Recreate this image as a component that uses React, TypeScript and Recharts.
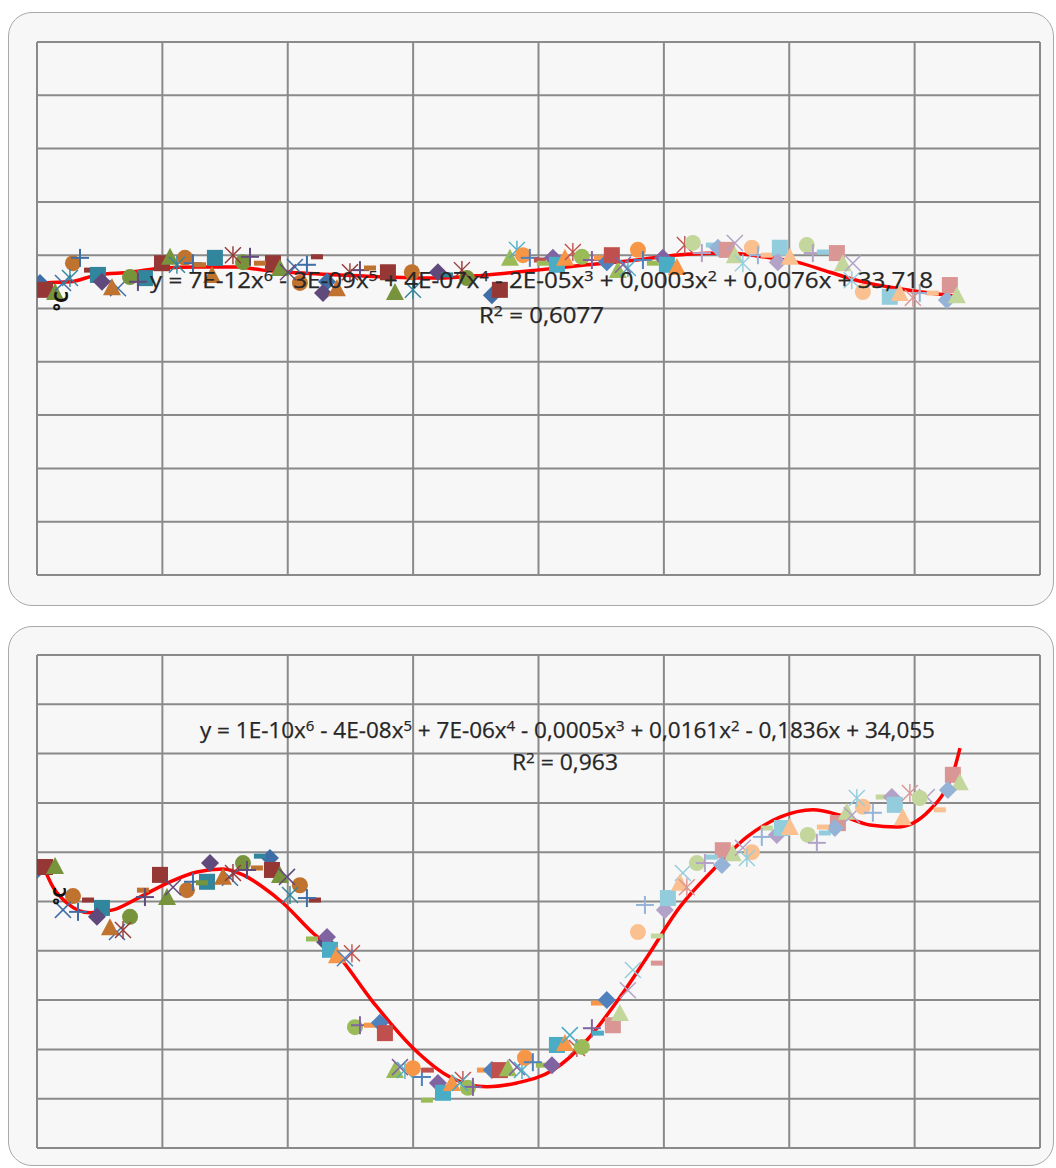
import React from "react";
import { CartesianGrid, ComposedChart, Line, Scatter, XAxis, YAxis } from "recharts";

// [x, y, series] — series id is "<shape>-<colour key>"
type Pt = [number, number, string];
type Tone = "dark" | "mid" | "light";

const X_TICKS = [0, 10, 20, 30, 40, 50, 60, 70, 80];
const Y_TICKS = [28, 29, 30, 31, 32, 33, 34, 35, 36, 37, 38];

const TOP_EQUATION = "y = 7E-12x^6 - 3E-09x^5 + 4E-07x^4 - 2E-05x^3 + 0,0003x^2 + 0,0076x + 33,718";
const TOP_R2 = "R^2 = 0,6077";
const BOTTOM_EQUATION = "y = 1E-10x^6 - 4E-08x^5 + 7E-06x^4 - 0,0005x^3 + 0,0161x^2 - 0,1836x + 34,055";
const BOTTOM_R2 = "R^2 = 0,963";
const UNIT_LABEL = "°C";

const topTrend = [
  [0.48, 33.48], [2.63, 33.5], [4.78, 33.63], [7.42, 33.68], [10.05, 33.76], [12.76, 33.78],
  [15.95, 33.78], [18.02, 33.72], [20.73, 33.67], [26.0, 33.61], [31.9, 33.57], [35.89, 33.63],
  [39.87, 33.72], [43.86, 33.82], [47.85, 33.91], [51.83, 34.02], [55.26, 34.04], [57.89, 33.97],
  [60.61, 33.87], [63.24, 33.68], [65.87, 33.5], [68.58, 33.38], [71.21, 33.29], [73.6, 33.22],
].map(([x, y]) => ({ x, y }));

const topDark: Pt[] = [
  [0.24, 33.48, "dia-b"], [0.64, 33.35, "sq-r"], [1.44, 33.31, "tri-g"], [2.07, 33.48, "x-b"],
  [2.87, 33.85, "circ-o"], [3.43, 33.95, "plus-b"], [4.23, 33.72, "dash-r"], [2.63, 33.57, "star-a"],
  [4.86, 33.63, "sq-a"], [5.18, 33.5, "dia-p"], [5.98, 33.4, "tri-o"], [6.46, 33.38, "x-b"],
  [7.42, 33.59, "circ-g"], [8.05, 33.5, "plus-p"], [8.61, 33.57, "sq-a"], [9.97, 33.85, "sq-r"],
  [10.61, 33.97, "tri-g"], [11.16, 33.82, "star-a"], [11.8, 33.95, "circ-o"], [12.44, 33.85, "plus-b"],
  [13.0, 33.82, "dash-o"], [14.19, 33.95, "sq-a"], [13.96, 33.63, "tri-o"], [15.63, 34.0, "star-r"],
  [16.43, 33.87, "circ-g"], [16.99, 33.97, "plus-p"], [17.78, 33.85, "dash-o"], [18.82, 33.85, "sq-r"],
  [19.38, 33.76, "tri-g"], [20.02, 33.68, "x-p"], [20.57, 33.78, "x-b"], [21.53, 33.82, "plus-b"],
  [22.33, 33.97, "dash-r"], [20.97, 33.48, "circ-o"], [22.81, 33.29, "dia-p"], [23.92, 33.38, "tri-o"],
  [23.13, 33.5, "dia-b"], [25.76, 33.72, "plus-p"], [24.96, 33.68, "star-r"], [26.56, 33.76, "dash-o"],
  [27.99, 33.68, "sq-r"], [29.9, 33.68, "circ-o"], [28.55, 33.31, "tri-g"], [29.98, 33.35, "star-a"],
  [31.98, 33.68, "dia-p"], [32.7, 33.63, "dash-a"], [33.89, 33.72, "star-r"], [34.29, 33.57, "circ-g"],
  [36.92, 33.35, "sq-r"], [36.28, 33.25, "dia-b"],
];

const topMid: Pt[] = [
  [37.72, 33.95, "tri-g"], [38.28, 34.1, "star-a"], [38.76, 34.0, "circ-o"], [39.31, 33.95, "plus-b"],
  [40.11, 33.91, "dash-r"], [40.35, 33.85, "dash-g"], [41.15, 33.95, "dia-p"], [41.47, 33.82, "sq-a"],
  [42.11, 33.95, "tri-o"], [42.74, 34.06, "star-r"], [43.46, 33.97, "circ-g"], [44.26, 33.91, "plus-p"],
  [44.9, 33.95, "dash-o"], [45.45, 33.87, "dia-b"], [45.85, 34.0, "sq-r"], [46.33, 33.72, "tri-g"],
  [46.73, 33.82, "x-p"], [47.13, 33.76, "star-a"], [47.93, 34.1, "circ-o"], [48.33, 33.91, "plus-b"],
  [49.12, 33.85, "dash-g"], [49.92, 33.95, "dia-p"], [50.24, 33.82, "sq-a"], [51.04, 33.78, "tri-o"],
  [51.67, 34.19, "star-r"],
];

const topLight: Pt[] = [
  [52.31, 34.23, "circ-g"], [53.03, 34.04, "plus-p"], [53.83, 34.19, "dash-a"], [54.31, 34.14, "dia-b"],
  [55.02, 34.1, "sq-r"], [55.66, 34.0, "tri-g"], [55.66, 34.23, "x-p"], [57.02, 34.14, "circ-o"],
  [56.3, 33.85, "star-a"], [57.5, 34.0, "plus-b"], [58.21, 34.0, "dash-o"], [59.25, 34.14, "sq-a"],
  [59.09, 33.87, "dia-p"], [60.05, 33.97, "tri-o"], [61.4, 34.19, "circ-g"], [61.88, 34.04, "plus-p"],
  [62.68, 34.06, "dash-a"], [63.8, 34.04, "sq-r"], [64.27, 33.85, "tri-g"], [65.07, 33.85, "x-p"],
  [64.99, 33.53, "star-a"], [65.87, 33.31, "circ-o"], [68.02, 33.22, "sq-a"], [68.82, 33.29, "tri-o"],
  [69.86, 33.2, "star-r"], [70.41, 33.29, "plus-b"], [71.45, 33.29, "dash-o"], [72.57, 33.16, "dia-b"],
  [72.81, 33.44, "sq-r"], [73.37, 33.25, "tri-g"],
];

const bottomTrend = [
  [0.4, 33.78], [1.28, 33.29], [2.39, 32.97], [4.23, 32.77], [6.06, 32.83], [8.21, 33.09],
  [10.61, 33.4], [12.76, 33.6], [14.84, 33.66], [16.43, 33.54], [18.03, 33.29], [19.62, 32.97],
  [22.01, 32.36], [23.61, 32.02], [26.8, 30.96], [29.99, 30.03], [32.94, 29.44], [35.89, 29.24],
  [38.28, 29.32], [41.16, 29.58], [43.87, 30.19], [46.5, 31.06], [48.65, 31.87], [51.28, 32.89],
  [53.92, 33.64], [56.63, 34.31], [59.26, 34.71], [61.89, 34.86], [64.05, 34.75], [66.44, 34.55],
  [68.59, 34.51], [69.87, 34.59], [71.23, 34.86], [72.58, 35.32], [73.22, 35.73], [73.62, 36.11],
].map(([x, y]) => ({ x, y }));

const bottomDark: Pt[] = [
  [0.0, 33.64, "dia-b"], [0.64, 33.7, "sq-r"], [1.44, 33.72, "tri-g"], [2.87, 33.11, "circ-o"],
  [4.07, 33.03, "dash-r"], [2.07, 32.83, "x-b"], [3.27, 32.79, "plus-b"], [5.18, 32.87, "sq-a"],
  [4.78, 32.69, "dia-p"], [5.82, 32.48, "tri-o"], [7.42, 32.69, "circ-g"], [6.86, 32.42, "star-r"],
  [6.38, 32.38, "x-b"], [8.45, 33.23, "dash-o"], [8.61, 33.09, "plus-p"], [9.81, 33.54, "sq-r"],
  [10.37, 33.09, "tri-g"], [10.85, 33.29, "x-p"], [11.96, 33.23, "circ-o"], [12.44, 33.4, "plus-b"],
  [13.16, 33.38, "dash-g"], [13.56, 33.4, "sq-a"], [13.8, 33.78, "dia-p"], [14.83, 33.5, "tri-o"],
  [15.39, 33.48, "x-b"], [15.63, 33.58, "star-r"], [16.43, 33.78, "circ-g"], [16.75, 33.64, "plus-p"],
  [17.54, 33.68, "dash-o"], [17.78, 33.92, "dash-a"], [18.58, 33.88, "dia-b"], [18.74, 33.64, "sq-r"],
  [19.38, 33.54, "tri-g"], [19.94, 33.5, "x-p"], [20.97, 33.33, "circ-o"], [21.53, 33.07, "plus-b"],
  [22.17, 33.03, "dash-r"], [20.18, 33.13, "star-a"], [22.97, 32.18, "dia-p"],
];

const bottomMid: Pt[] = [
  [21.93, 32.24, "dash-g"], [23.13, 32.28, "dia-p"], [23.37, 32.02, "sq-a"], [23.92, 31.91, "tri-o"],
  [25.12, 31.95, "star-r"], [24.56, 31.85, "x-b"], [25.36, 30.45, "circ-g"], [25.76, 30.49, "plus-p"],
  [26.56, 30.49, "dash-o"], [27.35, 30.54, "dia-b"], [27.75, 30.33, "sq-r"], [28.55, 29.58, "tri-g"],
  [28.95, 29.64, "x-p"], [29.35, 29.58, "star-a"], [29.98, 29.62, "circ-o"], [30.7, 29.44, "plus-b"],
  [31.18, 29.58, "dash-r"], [31.1, 28.97, "dash-g"], [31.98, 29.32, "dia-p"], [32.38, 29.12, "sq-a"],
  [33.09, 29.32, "tri-o"], [33.97, 29.38, "star-r"], [33.73, 29.32, "x-a"], [34.37, 29.22, "circ-g"],
  [34.77, 29.24, "plus-p"], [35.57, 29.58, "dash-o"], [36.28, 29.58, "dia-b"], [36.92, 29.58, "sq-r"],
  [37.56, 29.62, "tri-g"], [38.28, 29.64, "x-p"], [38.68, 29.58, "star-a"], [38.92, 29.83, "circ-o"],
  [39.55, 29.74, "plus-b"], [40.27, 29.68, "dash-g"], [41.07, 29.68, "dia-p"], [41.47, 30.09, "sq-a"],
  [42.11, 30.13, "tri-o"], [42.5, 30.29, "x-a"], [43.06, 30.03, "star-r"], [43.46, 30.05, "circ-g"],
  [44.26, 30.43, "plus-p"], [44.74, 30.33, "dash-a"], [44.66, 30.94, "dash-o"], [45.45, 31.0, "dia-b"],
];

const bottomLight: Pt[] = [
  [45.93, 30.49, "sq-r"], [46.49, 30.74, "tri-g"], [47.13, 31.2, "x-p"], [47.53, 31.61, "x-a"],
  [49.44, 31.75, "dash-r"], [47.93, 32.38, "circ-o"], [49.44, 32.3, "dash-g"], [48.49, 32.93, "plus-b"],
  [50.08, 32.83, "dia-p"], [50.32, 33.07, "sq-a"], [51.28, 33.38, "tri-o"], [51.83, 33.29, "star-r"],
  [51.52, 33.58, "x-a"], [52.63, 33.78, "circ-g"], [53.27, 33.78, "plus-p"], [53.83, 33.9, "dash-a"],
  [54.63, 33.74, "dia-b"], [54.7, 34.04, "sq-r"], [55.5, 33.98, "tri-g"], [56.3, 34.09, "x-p"],
  [57.02, 34.0, "circ-o"], [56.62, 33.88, "star-a"], [57.81, 34.31, "plus-b"], [58.21, 34.49, "dash-g"],
  [59.01, 34.35, "dia-p"], [59.41, 34.49, "sq-a"], [60.05, 34.51, "tri-o"], [61.48, 34.35, "circ-g"],
  [62.2, 34.19, "plus-p"], [62.84, 34.39, "dash-a"], [62.68, 34.51, "dash-o"], [63.64, 34.49, "dia-b"],
  [63.88, 34.59, "sq-r"], [64.59, 34.82, "tri-g"], [64.99, 34.75, "x-p"], [65.39, 35.1, "star-a"],
  [65.87, 34.92, "circ-o"], [66.67, 34.8, "plus-b"], [67.38, 35.12, "dash-g"], [68.18, 35.12, "dia-p"],
  [68.42, 34.96, "sq-a"], [69.06, 34.71, "tri-o"], [69.62, 35.2, "star-r"], [70.41, 35.1, "circ-g"],
  [70.97, 35.12, "x-p"], [72.01, 34.86, "dash-o"], [72.65, 35.26, "dia-b"], [73.05, 35.57, "sq-r"],
  [73.6, 35.42, "tri-g"],
];

const TONE_COLORS: Record<Tone, Record<string, string>> = {
  dark: { b: "#3f6ea6", r: "#953735", g: "#77933C", p: "#604A7B", a: "#31859C", o: "#C0722F" },
  mid: { b: "#4F81BD", r: "#C0504D", g: "#9BBB59", p: "#8064A2", a: "#4BACC6", o: "#F79646" },
  light: { b: "#95B3D7", r: "#D99694", g: "#C3D69B", p: "#B3A2C7", a: "#93CDDD", o: "#FAC090" },
};

function drawMarker(shape: string, color: string, cx: number, cy: number) {
  const s = 8;
  switch (shape) {
    case "dia":
      return <polygon points={`${cx},${cy - 9} ${cx + 9},${cy} ${cx},${cy + 9} ${cx - 9},${cy}`} fill={color} />;
    case "sq":
      return <rect x={cx - s} y={cy - s} width={2 * s} height={2 * s} fill={color} />;
    case "tri":
      return <polygon points={`${cx},${cy - 9} ${cx + 9},${cy + 8} ${cx - 9},${cy + 8}`} fill={color} />;
    case "circ":
      return <circle cx={cx} cy={cy} r={s} fill={color} />;
    case "x":
      return (
        <g stroke={color} strokeWidth={1.5}>
          <line x1={cx - 8} y1={cy - 8} x2={cx + 8} y2={cy + 8} />
          <line x1={cx - 8} y1={cy + 8} x2={cx + 8} y2={cy - 8} />
        </g>
      );
    case "star":
      return (
        <g stroke={color} strokeWidth={1.4}>
          <line x1={cx - 8} y1={cy - 8} x2={cx + 8} y2={cy + 8} />
          <line x1={cx - 8} y1={cy + 8} x2={cx + 8} y2={cy - 8} />
          <line x1={cx} y1={cy - 9} x2={cx} y2={cy + 9} />
        </g>
      );
    case "plus":
      return (
        <g stroke={color} strokeWidth={2}>
          <line x1={cx - 9} y1={cy} x2={cx + 9} y2={cy} />
          <line x1={cx} y1={cy - 9} x2={cx} y2={cy + 9} />
        </g>
      );
    default:
      return <rect x={cx - 6} y={cy - 2.5} width={12} height={5} fill={color} />;
  }
}

function groupPoints(pts: Pt[], tone: Tone) {
  const map = new Map<string, { x: number; y: number }[]>();
  pts.forEach(([x, y, k]) => {
    if (!map.has(k)) map.set(k, []);
    map.get(k)!.push({ x, y });
  });
  return [...map.entries()].map(([kind, data]) => {
    const [shape, c] = kind.split("-");
    return { key: `${tone}-${kind}`, shape, color: TONE_COLORS[tone][c], data };
  });
}

const topGroups = [
  ...groupPoints(topDark, "dark"),
  ...groupPoints(topMid, "mid"),
  ...groupPoints(topLight, "light"),
];
const bottomGroups = [
  ...groupPoints(bottomDark, "dark"),
  ...groupPoints(bottomMid, "mid"),
  ...groupPoints(bottomLight, "light"),
];

function FitChart({
  height,
  margin,
  trend,
  groups,
}: {
  height: number;
  margin: { top: number; left: number; right: number; bottom: number };
  trend: { x: number; y: number }[];
  groups: ReturnType<typeof groupPoints>;
}) {
  return (
    <ComposedChart width={1056} height={height} margin={margin}>
      <CartesianGrid stroke="#8a8a8a" strokeWidth={2} />
      <XAxis dataKey="x" type="number" domain={[0, 80]} ticks={X_TICKS} allowDataOverflow hide />
      <YAxis dataKey="y" type="number" domain={[28, 38]} ticks={Y_TICKS} allowDataOverflow hide />
      {groups.map((g) => (
        <Scatter
          key={g.key}
          data={g.data}
          isAnimationActive={false}
          shape={(p: any) => <g>{drawMarker(g.shape, g.color, p.cx, p.cy)}</g>}
        />
      ))}
      <Line
        data={trend}
        dataKey="y"
        type="monotone"
        stroke="#ff0000"
        strokeWidth={3.5}
        dot={false}
        activeDot={false}
        isAnimationActive={false}
      />
    </ComposedChart>
  );
}

function SupText({ x, y, width, text }: { x: number; y: number; width: number; text: string }) {
  const parts = text.split(/\^(\d)/);
  return (
    <text
      x={x}
      y={y}
      textLength={width}
      lengthAdjust="spacingAndGlyphs"
      fontFamily="'Open Sans', 'Noto Sans', sans-serif"
      fontSize={21}
      fill="#262626"
      stroke="#262626"
      strokeWidth={0.25}
    >
      {parts.map((p, i) =>
        i % 2 === 1 ? (
          <tspan key={i} dy={-7} fontSize={14}>
            {p}
          </tspan>
        ) : (
          <tspan key={i} dy={i === 0 ? 0 : 7}>
            {p}
          </tspan>
        )
      )}
    </text>
  );
}

const panelStyle: React.CSSProperties = {
  position: "absolute",
  left: 8,
  width: 1046,
  boxSizing: "border-box",
  border: "1.5px solid #a9a9a9",
  borderRadius: 24,
  background: "#f7f7f7",
};

export default function App() {
  return (
    <div style={{ position: "absolute", left: 0, top: 0, width: 1056, height: 1168, background: "#ffffff", overflow: "hidden" }}>
      <div style={{ ...panelStyle, top: 12, height: 594 }} />
      <div style={{ ...panelStyle, top: 626, height: 540 }} />
      <div style={{ position: "absolute", left: 0, top: 0 }}>
        <FitChart height={620} margin={{ top: 42, left: 37, right: 16, bottom: 45 }} trend={topTrend} groups={topGroups} />
      </div>
      <div style={{ position: "absolute", left: 0, top: 614 }}>
        <FitChart height={554} margin={{ top: 41, left: 37, right: 16, bottom: 20 }} trend={bottomTrend} groups={bottomGroups} />
      </div>
      <svg width={1056} height={1168} style={{ position: "absolute", left: 0, top: 0, pointerEvents: "none" }}>
        <SupText x={150} y={288} width={783} text={TOP_EQUATION} />
        <SupText x={479} y={323} width={125} text={TOP_R2} />
        <SupText x={200} y={738} width={735} text={BOTTOM_EQUATION} />
        <SupText x={512} y={770} width={106} text={BOTTOM_R2} />
        <text x={61} y={301} transform="rotate(-90 61 301)" textAnchor="middle" dominantBaseline="central"
          fontFamily="'Open Sans', sans-serif" fontSize={19} fontWeight={700} fill="#111">
          {UNIT_LABEL}
        </text>
        <text x={59} y={896} transform="rotate(-90 59 896)" textAnchor="middle" dominantBaseline="central"
          fontFamily="'Open Sans', sans-serif" fontSize={17} fontWeight={700} fill="#111">
          {UNIT_LABEL}
        </text>
      </svg>
    </div>
  );
}
